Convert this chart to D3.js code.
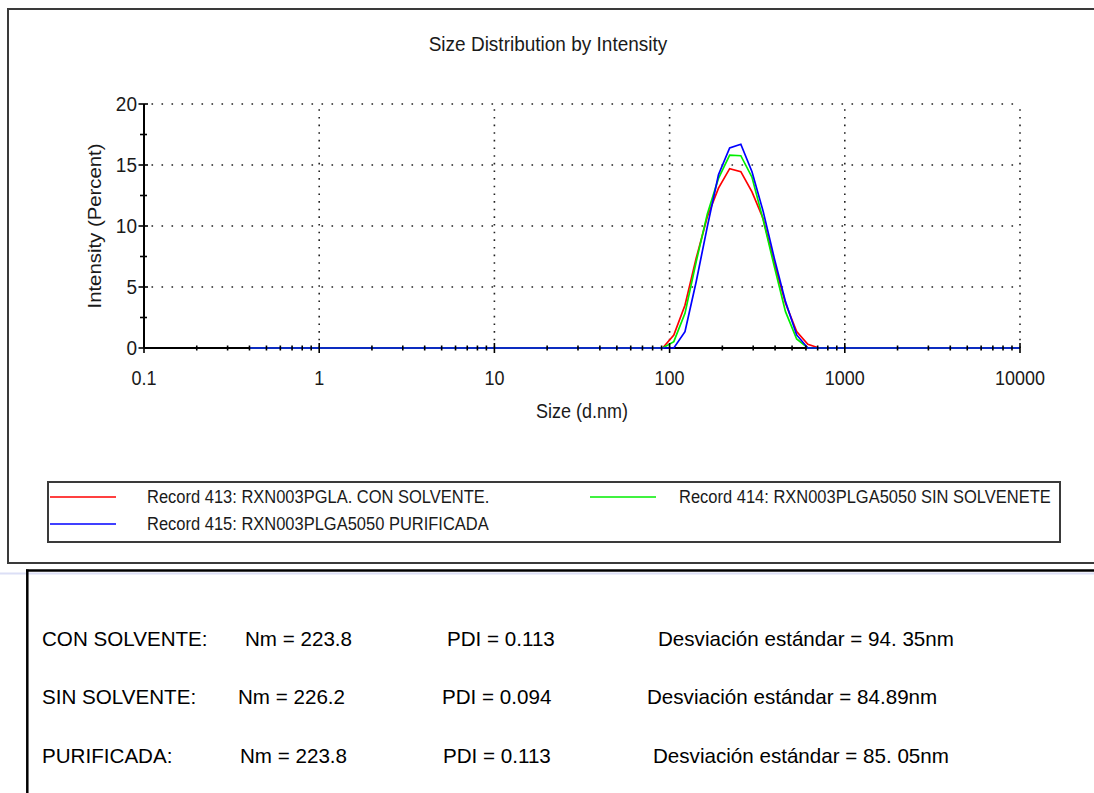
<!DOCTYPE html>
<html>
<head>
<meta charset="utf-8">
<script src="https://cdn.jsdelivr.net/npm/d3@7"></script>
<style>
  html, body { margin: 0; padding: 0; background: #fff; }
  svg { display: block; font-family: "Liberation Sans", Arial, sans-serif; }
</style>
</head>
<body>
<script>
// ---------------- DATA ----------------
const chartTitle = "Size Distribution by Intensity";
const xAxisTitle = "Size (d.nm)";
const yAxisTitle = "Intensity (Percent)";

// Zetasizer size bins (d.nm)
const sizes = [0.4, 0.4632, 0.5365, 0.6213, 0.7195, 0.8332, 0.9649, 1.117, 1.294, 1.499,
  1.736, 2.01, 2.328, 2.696, 3.122, 3.615, 4.187, 4.849, 5.615, 6.503,
  7.531, 8.721, 10.1, 11.7, 13.54, 15.69, 18.17, 21.04, 24.36, 28.21,
  32.67, 37.84, 43.82, 50.75, 58.77, 68.06, 78.82, 91.28, 105.7, 122.4,
  141.8, 164.2, 190.1, 220.2, 255.0, 295.3, 342.0, 396.1, 458.7, 531.2,
  615.1, 712.4, 825.0, 955.4, 1106, 1281, 1484, 1718, 1990, 2305,
  2669, 3091, 3580, 4145, 4801, 5560, 6439, 7456, 8635, 10000];

const seriesNames = [
  "Record 413: RXN003PGLA. CON SOLVENTE.",
  "Record 414: RXN003PLGA5050 SIN SOLVENETE",
  "Record 415: RXN003PLGA5050 PURIFICADA"
];
const seriesColors = ["#ff0000", "#00ee00", "#0000ff"];

const record413 = [0, 0, 0, 0, 0, 0, 0, 0, 0, 0,
  0, 0, 0, 0, 0, 0, 0, 0, 0, 0,
  0, 0, 0, 0, 0, 0, 0, 0, 0, 0,
  0, 0, 0, 0, 0, 0, 0, 0, 1.07, 3.5,
  7.35, 10.76, 13.1, 14.7, 14.45, 12.8, 10.6, 6.94, 3.66, 1.34,
  0.3, 0, 0, 0, 0, 0, 0, 0, 0, 0,
  0, 0, 0, 0, 0, 0, 0, 0, 0, 0];
const record414 = [0, 0, 0, 0, 0, 0, 0, 0, 0, 0,
  0, 0, 0, 0, 0, 0, 0, 0, 0, 0,
  0, 0, 0, 0, 0, 0, 0, 0, 0, 0,
  0, 0, 0, 0, 0, 0, 0, 0, 0.52, 2.84,
  7.07, 10.98, 13.9, 15.8, 15.76, 14.0, 10.5, 6.67, 2.98, 0.74,
  0, 0, 0, 0, 0, 0, 0, 0, 0, 0,
  0, 0, 0, 0, 0, 0, 0, 0, 0, 0];
const record415 = [0, 0, 0, 0, 0, 0, 0, 0, 0, 0,
  0, 0, 0, 0, 0, 0, 0, 0, 0, 0,
  0, 0, 0, 0, 0, 0, 0, 0, 0, 0,
  0, 0, 0, 0, 0, 0, 0, 0, 0, 1.34,
  5.43, 9.95, 14.2, 16.4, 16.7, 14.45, 11.2, 7.35, 3.8, 1.07,
  0, 0, 0, 0, 0, 0, 0, 0, 0, 0,
  0, 0, 0, 0, 0, 0, 0, 0, 0, 0];

const xTickValues = [0.1, 1, 10, 100, 1000, 10000];
const xTickLabels = ["0.1", "1", "10", "100", "1000", "10000"];
const yTickValues = [0, 5, 10, 15, 20];
const yMinorValues = [2.5, 7.5, 12.5, 17.5];

const rowLabels = ["CON SOLVENTE:", "SIN SOLVENTE:", "PURIFICADA:"];
const rowNm = ["223.8", "226.2", "223.8"];
const rowPdi = ["0.113", "0.094", "0.113"];
const rowSd = ["94. 35nm", "84.89nm", "85. 05nm"];

// ---------------- LAYOUT ----------------
const W = 1094, H = 793;
const svg = d3.select("body").append("svg").attr("width", W).attr("height", H);

const x = d3.scaleLog().domain([0.1, 10000]).range([144, 1020]);
const y = d3.scaleLinear().domain([0, 20]).range([348, 104]);

const ink = "#1a1a1a";
function stretchText(parent, px, py, str, size, anchor, sy) {
  return parent.append("text")
    .attr("transform", `translate(${px},${py}) scale(1,${sy || 1.1})`)
    .attr("text-anchor", anchor || "start")
    .attr("font-size", size)
    .attr("fill", ink)
    .text(str);
}

// outer chart frame
svg.append("rect").attr("x", 8).attr("y", 9).attr("width", 1200).attr("height", 554)
  .attr("fill", "none").attr("stroke", "#3a3a3a").attr("stroke-width", 2);

// title
stretchText(svg, 548, 51, chartTitle, 19, "middle");

// grid (dotted)
const grid = svg.append("g");
yTickValues.filter(v => v > 0).forEach(v => {
  grid.append("line").attr("x1", x(0.1)).attr("x2", x(10000))
    .attr("y1", y(v)).attr("y2", y(v))
    .attr("stroke", "#222").attr("stroke-width", 1.6)
    .attr("stroke-dasharray", "1.6 8.4").attr("stroke-dashoffset", -7.5);
});
xTickValues.filter(v => v > 0.1).forEach(v => {
  grid.append("line").attr("x1", x(v)).attr("x2", x(v))
    .attr("y1", y(0)).attr("y2", y(20))
    .attr("stroke", "#222").attr("stroke-width", 1.6)
    .attr("stroke-dasharray", "1.6 6.05");
});

// axis lines
svg.append("line").attr("x1", x(0.1)).attr("x2", x(10000)).attr("y1", y(0)).attr("y2", y(0))
  .attr("stroke", "#000").attr("stroke-width", 2);
svg.append("line").attr("x1", x(0.1)).attr("x2", x(0.1)).attr("y1", y(0)).attr("y2", y(20))
  .attr("stroke", "#000").attr("stroke-width", 2);

// series
const allSeries = [record413, record414, record415];
const line = d3.line().x(d => x(d[0])).y(d => y(d[1]));
allSeries.forEach((vals, i) => {
  svg.append("path")
    .datum(sizes.map((s, k) => [s, vals[k]]))
    .attr("d", line)
    .attr("fill", "none")
    .attr("stroke", seriesColors[i])
    .attr("stroke-width", 1.7);
});

// ticks (drawn above series)
const ticks = svg.append("g").attr("stroke", "#000").attr("stroke-width", 1.6);
yTickValues.forEach(v => {
  ticks.append("line").attr("x1", x(0.1) - 5.5).attr("x2", x(0.1) + 4).attr("y1", y(v)).attr("y2", y(v));
});
yMinorValues.forEach(v => {
  ticks.append("line").attr("x1", x(0.1) - 4).attr("x2", x(0.1) + 3).attr("y1", y(v)).attr("y2", y(v));
});
xTickValues.forEach(v => {
  ticks.append("line").attr("x1", x(v)).attr("x2", x(v)).attr("y1", y(0) - 5).attr("y2", y(0) + 5);
});
xTickValues.slice(0, -1).forEach(dec => {
  for (let m = 2; m <= 9; m++) {
    const v = dec * m;
    ticks.append("line").attr("x1", x(v)).attr("x2", x(v)).attr("y1", y(0) - 2.5).attr("y2", y(0) + 2.5);
  }
});

// tick labels
yTickValues.forEach(v => {
  stretchText(svg, x(0.1) - 7, y(v) + 6.5, String(v), 19, "end");
});
xTickValues.forEach((v, i) => {
  stretchText(svg, x(v), 385, xTickLabels[i], 18, "middle");
});

// axis titles
stretchText(svg, 582, 418, xAxisTitle, 18, "middle");
svg.append("text")
  .attr("transform", `translate(101,226) rotate(-90) scale(1.1,1)`)
  .attr("text-anchor", "middle").attr("font-size", 18.5).attr("fill", ink)
  .text(yAxisTitle);

// legend
const lg = svg.append("g");
lg.append("rect").attr("x", 48).attr("y", 482).attr("width", 1012).attr("height", 60)
  .attr("fill", "#fff").attr("stroke", "#3a3a3a").attr("stroke-width", 2);
const legendPos = [[50, 497, 147], [590, 497, 679], [50, 524, 147]];
[0, 1, 2].forEach(i => {
  const [lx, ly, tx] = legendPos[i];
  lg.append("line").attr("x1", lx).attr("x2", lx + 66).attr("y1", ly).attr("y2", ly)
    .attr("stroke", seriesColors[i]).attr("stroke-width", 1.7);
  stretchText(lg, tx, ly + 6, seriesNames[i], 16.5, "start");
});

// separator and lower text box
svg.append("line").attr("x1", 0).attr("x2", W).attr("y1", 573.5).attr("y2", 573.5)
  .attr("stroke", "#dcdff6").attr("stroke-width", 2);
svg.append("line").attr("x1", 26).attr("x2", W).attr("y1", 570.5).attr("y2", 570.5)
  .attr("stroke", "#000").attr("stroke-width", 2.5);
svg.append("line").attr("x1", 27.3).attr("x2", 27.3).attr("y1", 569.5).attr("y2", H)
  .attr("stroke", "#000").attr("stroke-width", 2.5);

const rowBase = [646, 704, 763];
const nmX = [245, 238, 240];
const pdiX = [447, 442, 443];
const sdX = [658, 647, 653];
const tb = svg.append("g").attr("font-size", 20.6).attr("fill", "#000");
rowLabels.forEach((lab, i) => {
  tb.append("text").attr("x", 42).attr("y", rowBase[i]).text(lab);
  tb.append("text").attr("x", nmX[i]).attr("y", rowBase[i]).text("Nm = " + rowNm[i]);
  tb.append("text").attr("x", pdiX[i]).attr("y", rowBase[i]).text("PDI = " + rowPdi[i]);
  tb.append("text").attr("x", sdX[i]).attr("y", rowBase[i]).text("Desviación estándar = " + rowSd[i]);
});
</script>
</body>
</html>
